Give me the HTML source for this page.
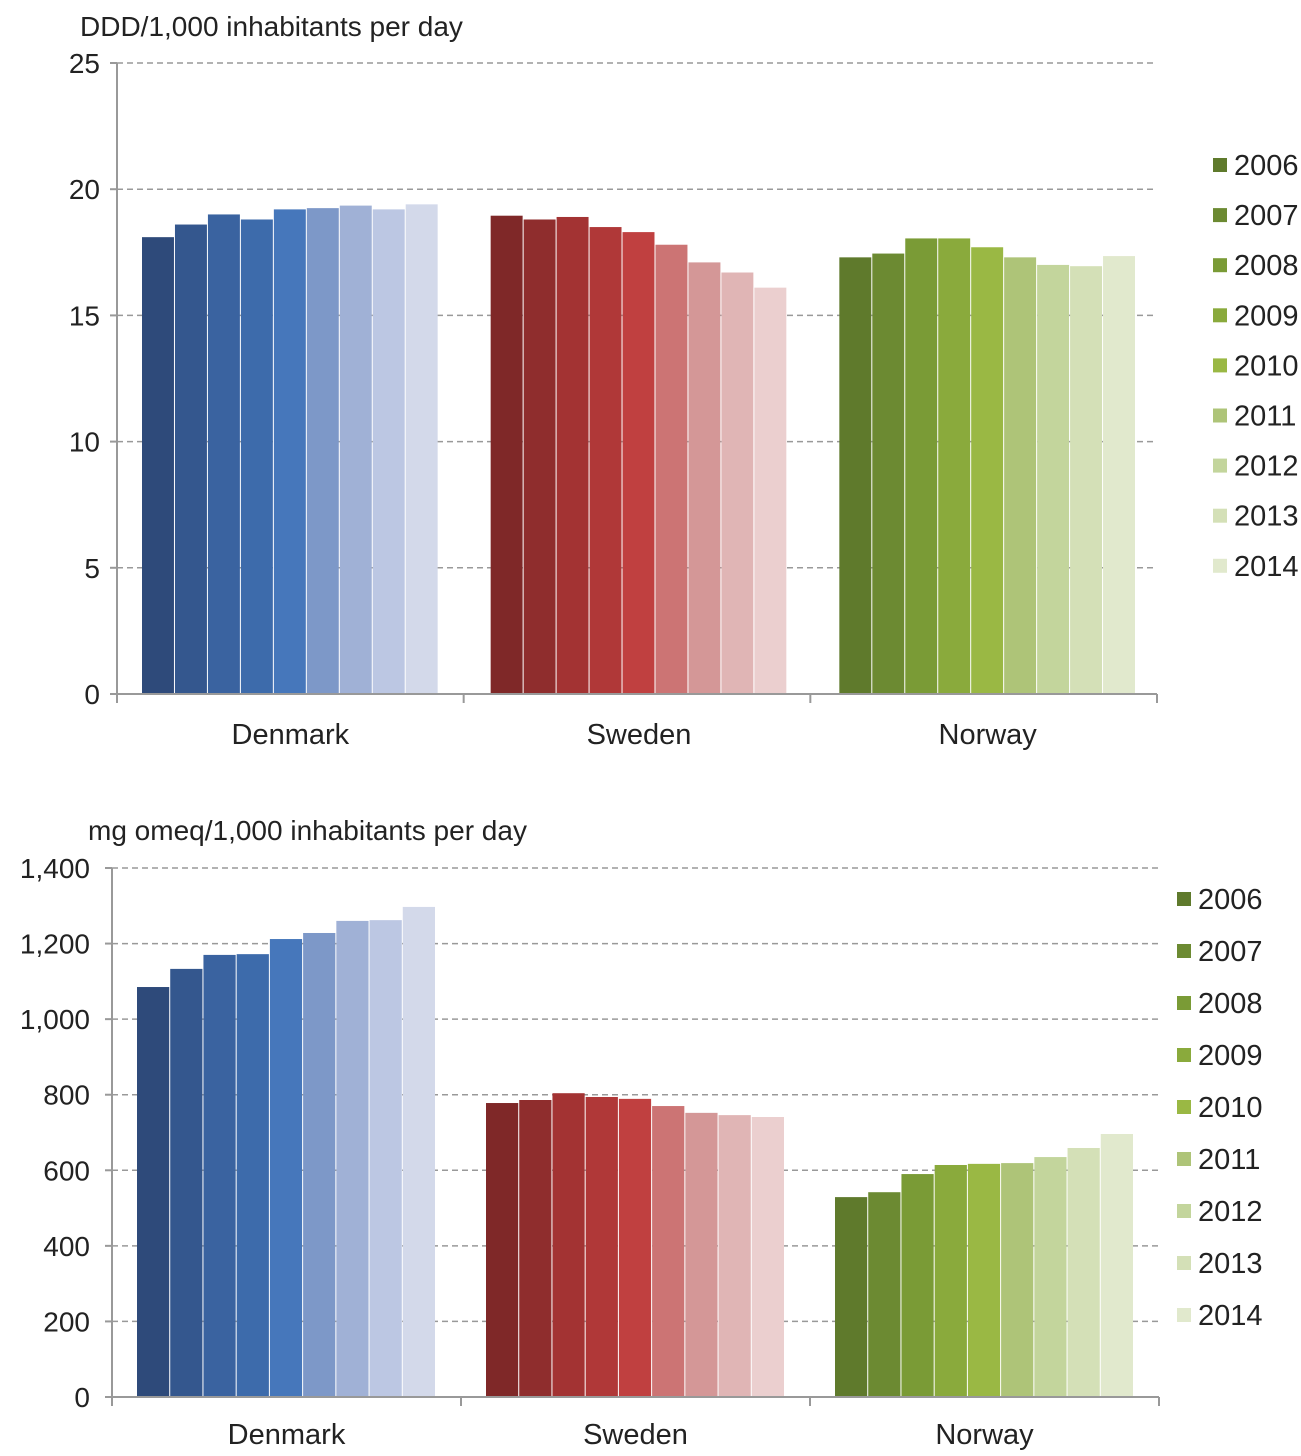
<!DOCTYPE html>
<html><head><meta charset="utf-8"><style>
body{margin:0;background:#fff}
svg text{font-family:"Liberation Sans",sans-serif;fill:#222}
</style></head><body>
<svg id="s" width="1301" height="1451"></svg>
<script>
const countries=["Denmark","Sweden","Norway"];
const years=["2006","2007","2008","2009","2010","2011","2012","2013","2014"];
const dddDenmark=[18.1,18.6,19.0,18.8,19.2,19.25,19.35,19.2,19.4];
const dddSweden=[18.95,18.8,18.9,18.5,18.3,17.8,17.1,16.7,16.1];
const dddNorway=[17.3,17.45,18.05,18.05,17.7,17.3,17.0,16.95,17.35];
const omeqDenmark=[1085,1133,1170,1172,1212,1228,1260,1262,1297];
const omeqSweden=[778,786,804,794,789,770,752,746,741];
const omeqNorway=[529,542,590,614,617,619,635,659,696];
const ddTicks=[0,5,10,15,20,25];
const omTicks=[0,200,400,600,800,1000,1200,1400];
const colors=[
["#2e4a7a","#34578e","#3a63a0","#3d6bab","#4677bb","#7d98c8","#a0b1d6","#bcc7e3","#d3d9ea"],
["#7f2828","#8f2d2d","#a33333","#b03838","#c04040","#cc7474","#d49797","#e0b5b5","#ebcfcf"],
["#5f7a2c","#6c8a32","#7a9b36","#8aaa3c","#9ab844","#aec478","#c3d59c","#d4e0b7","#e1e9cd"]];
const NS="http://www.w3.org/2000/svg";
const svg=document.getElementById('s');
function el(t,a,txt){const e=document.createElementNS(NS,t);for(const k in a)e.setAttribute(k,a[k]);if(txt!==undefined)e.textContent=txt;svg.appendChild(e);return e;}
function chart(o){
 const y=v=>o.y0-(v-0)/o.max*(o.y0-o.yTop);
 o.ticks.forEach(t=>{
  if(t>0){const g=el('line',{x1:o.x0,x2:o.x1,y1:y(t),y2:y(t),stroke:'#999','stroke-width':1.5,'stroke-dasharray':'6,4'});
  
  }
  const tl=el('text',{x:o.labX,y:y(t)+10,'text-anchor':'end','font-size':28},o.fmt(t));
  
  
 });
 const gw=(o.x1-o.x0)/3;
 o.data.forEach((arr,c)=>{
  const bx=o.x0+gw*c+o.pad+o.shift*c, bw=(gw-2*o.pad)/arr.length;
  arr.forEach((v,i)=>{
   const r=el('rect',{x:bx+i*bw,y:y(v),width:bw-1,height:o.y0-y(v),fill:colors[c][i]});
   
   
  });
  const cl=el('text',{x:o.x0+gw*(c+0.5)+o.shift*c,y:o.catY,'text-anchor':'middle','font-size':29},countries[c]);
  
  
 });
 el('line',{x1:o.x0,x2:o.x0,y1:o.yTop,y2:o.y0+8,stroke:'#999','stroke-width':2});
 el('line',{x1:o.x0,x2:o.x1,y1:o.y0,y2:o.y0,stroke:'#999','stroke-width':2});
 for(let c=0;c<=3;c++)el('line',{x1:o.x0+gw*c,x2:o.x0+gw*c,y1:o.y0,y2:o.y0+9,stroke:'#999','stroke-width':2});
 o.ticks.forEach(t=>el('line',{x1:o.x0-7,x2:o.x0,y1:y(t),y2:y(t),stroke:'#999','stroke-width':2}));
 const tt=el('text',{x:o.titleX,y:o.titleY,'font-size':28},o.title);
 
 
 years.forEach((yr,i)=>{
  const ly=o.legY+o.legStep*i;
  const sq=el('rect',{x:o.legX,y:ly-7,width:14,height:14,fill:colors[2][i]});
  
  
  const lt=el('text',{x:o.legX+21,y:ly+10,'font-size':29},yr);
  
  
 });
}
chart({x0:117,x1:1157,y0:694,yTop:63,max:25,ticks:ddTicks,fmt:t=>String(t),labX:100,pad:25,shift:2,
 data:[dddDenmark,dddSweden,dddNorway],catY:744,title:"DDD/1,000 inhabitants per day",titleX:80,titleY:36,
 legX:1213,legY:165,legStep:50.1});
chart({x0:112,x1:1159,y0:1397,yTop:868,max:1400,ticks:omTicks,fmt:t=>t.toLocaleString('en-US'),labX:90,pad:25,shift:0,
 data:[omeqDenmark,omeqSweden,omeqNorway],catY:1444,title:"mg omeq/1,000 inhabitants per day",titleX:88,titleY:840,
 legX:1177,legY:899,legStep:52});
</script>
</body></html>
